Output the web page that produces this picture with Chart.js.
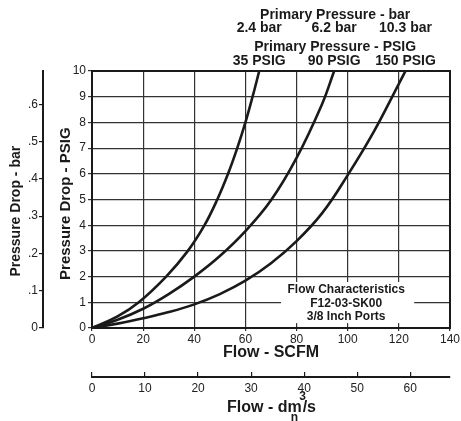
<!DOCTYPE html>
<html>
<head>
<meta charset="utf-8">
<script src="https://cdn.jsdelivr.net/npm/chart.js@4/dist/chart.umd.min.js"></script>
<style>
html,body{margin:0;padding:0;background:#fff;}
#wrap{width:461px;height:421px;position:relative;}
</style>
</head>
<body>
<div id="wrap"><canvas id="c" width="461" height="421"></canvas></div>
<script>
// ---- data ----
const flow35  = [0, 10, 18.3, 29, 37.5, 44, 49, 53.2, 56.8, 60, 62.8, 65.4];
const drop35  = [0, 0.45, 1, 2, 3, 4, 5, 6, 7, 8, 9, 10];
const flow90  = [0, 10, 20, 30, 40, 50, 60, 70, 80, 90, 94.7];
const drop90  = [0, 0.32, 0.75, 1.32, 2.0, 2.8, 3.77, 4.97, 6.62, 8.72, 10];
const flow150 = [0, 10, 20, 30, 40, 50, 60, 70, 80, 90, 100, 110, 120, 122.6];
const drop150 = [0, 0.17, 0.38, 0.62, 0.92, 1.32, 1.84, 2.52, 3.38, 4.47, 5.95, 7.6, 9.5, 10];

const barLabels  = ['2.4 bar', '6.2 bar', '10.3 bar'];
const psigLabels = ['35 PSIG', '90 PSIG', '150 PSIG'];
const scfmTicks  = [0, 20, 40, 60, 80, 100, 120, 140];
const psigTicks  = [0, 1, 2, 3, 4, 5, 6, 7, 8, 9, 10];
const barTicks   = [0, 0.1, 0.2, 0.3, 0.4, 0.5, 0.6];
const dm3Ticks   = [0, 10, 20, 30, 40, 50, 60];
const noteLines  = ['Flow Characteristics', 'F12-03-SK00', '3/8 Inch Ports'];

const PSI_PER_BAR = 14.5038;
const SCFM_PER_DM3 = 2.074;

const FONT = "'Liberation Sans', Arial, Helvetica, sans-serif";
const INK = '#1a1a1a';
const NB = '\u00a0';

function pts(xs, ys){ return xs.map((x,i)=>({x:x, y:ys[i]})); }

const series = [pts(flow35, drop35), pts(flow90, drop90), pts(flow150, drop150)];

const decor = {
  id: 'decor',
  beforeDatasetsDraw(chart){
    const {ctx} = chart;
    const x = chart.scales.x, y = chart.scales.y;
    const l = x.getPixelForValue(73.9), r = x.getPixelForValue(126);
    const t = y.getPixelForValue(1.79), b = y.getPixelForValue(0.19);
    ctx.save();
    ctx.fillStyle = '#fff';
    ctx.fillRect(l, t, r - l, b - t);
    ctx.fillStyle = INK;
    ctx.font = 'bold 12px ' + FONT;
    ctx.textAlign = 'center';
    ctx.textBaseline = 'middle';
    const cx = x.getPixelForValue(99.4);
    const ly = [1.48, 0.96, 0.44];
    noteLines.forEach((s,i)=>ctx.fillText(s, cx, y.getPixelForValue(ly[i])));
    ctx.restore();
  },
  afterDraw(chart){
    const {ctx, chartArea:a} = chart;
    const x = chart.scales.x;
    ctx.save();
    ctx.strokeStyle = INK;
    ctx.lineWidth = 2;
    ctx.strokeRect(a.left, a.top, a.right - a.left, a.bottom - a.top);
    ctx.fillStyle = INK;
    ctx.textAlign = 'center';
    ctx.textBaseline = 'middle';
    ctx.font = 'bold 14px ' + FONT;
    const ends = series.map(s => x.getPixelForValue(s[s.length-1].x));
    const mid = ends[1] + 1;
    ctx.fillText('Primary Pressure - bar', mid, a.top - 56);
    barLabels.forEach((s,i)=>ctx.fillText(s, ends[i], a.top - 43));
    ctx.fillText('Primary Pressure - PSIG', mid, a.top - 24);
    psigLabels.forEach((s,i)=>ctx.fillText(s, ends[i], a.top - 9.5));
    // dm3/s axis title
    const x2 = chart.scales.x2;
    const cx = (a.left + a.right) / 2;
    ctx.font = 'bold 16px ' + FONT;
    ctx.textBaseline = 'alphabetic';
    const p1 = 'Flow - dm', p2 = '/s';
    const w1 = ctx.measureText(p1).width, w2 = ctx.measureText(p2).width;
    const sx = cx - (w1 + w2) / 2;
    const base = x2.bottom - 9.5;
    ctx.textAlign = 'left';
    ctx.fillText(p1, sx, base);
    ctx.fillText(p2, sx + w1 + 1, base);
    const mw = ctx.measureText('m').width;
    ctx.font = 'bold 12px ' + FONT;
    ctx.textAlign = 'center';
    ctx.fillText('3', sx + w1 + 1, base - 12);
    ctx.fillText('n', sx + w1 - mw / 2, base + 9);
    ctx.restore();
  }
};

new Chart(document.getElementById('c'), {
  type: 'scatter',
  data: {
    datasets: series.map((d,i)=>({
      label: psigLabels[i],
      data: d,
      showLine: true,
      borderColor: INK,
      borderWidth: 2.6,
      pointRadius: 0,
      tension: 0.4,
      fill: false
    }))
  },
  options: {
    responsive: false,
    animation: false,
    devicePixelRatio: 1,
    layout: { padding: { top: 71, right: 9, left: 0, bottom: 0 } },
    plugins: { legend: { display: false }, tooltip: { enabled: false } },
    scales: {
      x: {
        type: 'linear', position: 'bottom', weight: 0,
        min: 0, max: 140,
        afterBuildTicks: s => { s.ticks = scfmTicks.map(v=>({value:v})); },
        afterFit: s => { s.height = 49; },
        grid: { color: '#333', lineWidth: 1.2, drawTicks: true, tickLength: 3 },
        border: { display: true, color: INK, width: 2 },
        ticks: { color: '#222', font: { family: FONT, size: 12 }, padding: 1, maxRotation: 0 },
        title: { display: true, text: 'Flow - SCFM', color: INK,
                 font: { family: FONT, size: 16, weight: 'bold' }, padding: { top: 0, bottom: 15 } }
      },
      x2: {
        type: 'linear', position: 'bottom', weight: 1,
        min: 0, max: 140 / SCFM_PER_DM3,
        afterBuildTicks: s => { s.ticks = dm3Ticks.map(v=>({value:v})); },
        afterFit: s => { s.height = 44; },
        grid: { drawOnChartArea: false, color: INK, lineWidth: 1.2, drawTicks: true, tickLength: -5 },
        border: { display: true, color: INK, width: 2 },
        ticks: { color: '#222', font: { family: FONT, size: 12 }, padding: 9, maxRotation: 0 }
      },
      y: {
        type: 'linear', position: 'left', weight: 0,
        min: 0, max: 10,
        afterBuildTicks: s => { s.ticks = psigTicks.map(v=>({value:v})); },
        afterFit: s => { s.width = 49; },
        grid: { color: '#333', lineWidth: 1.2, drawTicks: true, tickLength: 4 },
        border: { display: true, color: INK, width: 2 },
        ticks: { color: '#222', font: { family: FONT, size: 12 }, padding: 2 },
        title: { display: true, text: 'Pressure Drop - PSIG' + NB + NB, color: INK,
                 font: { family: FONT, size: 15, weight: 'bold' }, padding: { top: 14, bottom: 0 } }
      },
      y2: {
        type: 'linear', position: 'left', weight: 1,
        min: 0, max: 10 / PSI_PER_BAR,
        afterBuildTicks: s => { s.ticks = barTicks.map(v=>({value:v})); },
        afterFit: s => { s.width = 43; },
        grid: { drawOnChartArea: false, color: INK, lineWidth: 1.2, drawTicks: true, tickLength: 4 },
        border: { display: true, color: INK, width: 2 },
        ticks: { color: '#222', font: { family: FONT, size: 12 }, padding: 1,
                 callback: v => v === 0 ? '0' : '.' + Math.round(v * 10) },
        title: { display: true, text: 'Pressure Drop - bar' + NB.repeat(6), color: INK,
                 font: { family: FONT, size: 14, weight: 'bold' }, padding: { top: 8, bottom: 0 } }
      }
    }
  },
  plugins: [decor]
});
</script>
</body>
</html>
